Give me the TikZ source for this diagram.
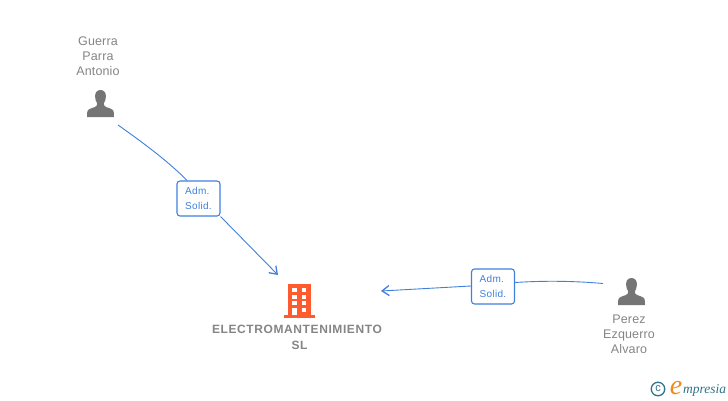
\documentclass[tikz,border=0pt]{standalone}
\usepackage{fontspec}
\setmainfont{Liberation Sans}
\newfontfamily\logofont{Liberation Serif}
\usetikzlibrary{arrows.meta}
\definecolor{linkblue}{HTML}{3F80DE}
\definecolor{iconGrey}{HTML}{757575}
\definecolor{textGrey}{HTML}{858585}
\definecolor{orangeB}{HTML}{FF5B2E}
\definecolor{logoTeal}{HTML}{2F7488}
\definecolor{logoOrange}{HTML}{F08A1E}
\tikzset{
  x=1pt,y=-1pt,
  who/.style={font=\fontsize{12.5}{15}\selectfont\addfontfeature{LetterSpace=1},text=textGrey,align=center,inner sep=0pt},
  firm/.style={font=\fontsize{12}{16}\selectfont\bfseries\addfontfeature{LetterSpace=5},text=textGrey,align=center,inner sep=0pt},
  rolebox/.style={draw=linkblue,line width=1.1pt,rounded corners=3pt,fill=white,text=linkblue,minimum width=43pt,minimum height=35pt,inner sep=0pt,align=left,font=\fontsize{10}{15}\selectfont\addfontfeature{LetterSpace=3}},
  link/.style={draw=linkblue,line width=0.9pt},
  linkhead/.style={link,-{Straight Barb[length=7pt,width=10pt,line width=1.3pt]}},
}
\newcommand{\personicon}[2]{%
  \begin{scope}[shift={(#1,#2)}]
  \fill[iconGrey] (0,0) .. controls (-3.6,0) and (-5.6,3) .. (-5.4,6.5)
    .. controls (-5.3,9.5) and (-4.6,11.5) .. (-3.4,13.2)
    .. controls (-3.2,15.5) and (-3.8,16.4) .. (-6,17.2)
    .. controls (-10.5,18.6) and (-13.3,19.5) .. (-13.4,23)
    -- (-13.4,27) -- (13.4,27) -- (13.4,23)
    .. controls (13.3,19.5) and (10.5,18.6) .. (6,17.2)
    .. controls (3.8,16.4) and (3.2,15.5) .. (3.4,13.2)
    .. controls (4.6,11.5) and (5.3,9.5) .. (5.4,6.5)
    .. controls (5.6,3) and (3.6,0) .. (0,0) -- cycle;
  \end{scope}}
\begin{document}
\begin{tikzpicture}
\useasboundingbox (0,0) rectangle (728,400);
\fill[white] (0,0) rectangle (728,400);
% people
\node[who] (guerra) at (98,56) {Guerra\\Parra\\Antonio};
\personicon{100.5}{90}
\node[who] (perez) at (629,334) {Perez\\Ezquerro\\Alvaro};
\personicon{631.5}{278}
% company
\fill[orangeB] (288.3,283.5) rectangle (310.7,316);
\fill[orangeB] (283.5,315) rectangle (315,317.5);
\foreach \r in {288,294.7,301.3,307.8}{
  \fill[white] (292.3,\r) rectangle (296.7,\r+3.8);
}
\foreach \r in {288,294.7,301.3,307.8}{
  \fill[white] (301.8,\r) rectangle (306.2,\r+3.8);
}
\fill[white] (292.3,308) rectangle (296.7,315);
\node[firm] (firm) at (297,337.5) {ELECTROMANTENIMIENTO\\\hspace*{5pt}SL};
% connectors
\node[rolebox] (r1) at (198.5,198.5) {Adm.\\Solid.\hspace{2pt}};
\node[rolebox] (r2) at (493,286.5) {Adm.\\Solid.\hspace{2pt}};
\coordinate (g1) at (118,125);
\coordinate (t1) at (278,275);
\coordinate (p1) at (603,283.5);
\coordinate (t2) at (381,291);
\draw[link] (g1) .. controls (145,144) and (170,163) .. (r1.north -| 187,0);
\draw[linkhead] (r1.south east) -- (t1);
\draw[link] (p1) .. controls (575,281) and (545,280.5) .. (r2.east |- 0,282.5);
\draw[linkhead] (r2.west |- 0,286) -- (t2);
% logo
\node[draw=logoTeal,line width=1.3pt,circle,minimum size=13.5pt,inner sep=0pt,text=logoTeal,font=\fontsize{11}{11}\selectfont] (copy) at (658,389) {c};
\node[text=logoOrange,font=\logofont\itshape\fontsize{28}{28}\selectfont,inner sep=0pt,anchor=base] (e) at (676,394) {e};
\node[text=logoTeal,font=\logofont\itshape\fontsize{13.5}{14}\selectfont,inner sep=0pt,anchor=base west] (mp) at (683,393.5) {mpresia};
\end{tikzpicture}
\end{document}
